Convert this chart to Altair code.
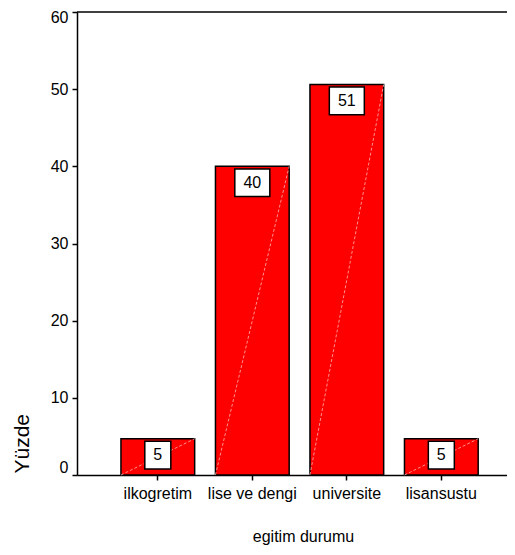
import altair as alt
import pandas as pd

categories = ["ilkogretim", "lise ve dengi", "universite", "lisansustu"]
percents = [4.7, 40.0, 50.6, 4.7]
labels = ["5", "40", "51", "5"]
y_ticks = [0, 10, 20, 30, 40, 50, 60]

df = pd.DataFrame({"cat": categories, "val": percents, "lab": labels})
df["w"] = df["lab"].str.len().astype(str)

FONT = "Liberation Sans"
W, H = 430, 463

xscale = alt.Scale(domain=categories, paddingInner=0.22, paddingOuter=0.385, align=0.604)
yscale = alt.Scale(domain=[0, 60], nice=False)

x_axis = alt.Axis(
    title="egitim durumu", labelAngle=0, labelFont=FONT, labelFontSize=16,
    labelColor="black", labelPadding=5, tickSize=5, tickColor="black",
    tickWidth=1.5, domainColor="black", domainWidth=1.5,
    titleFont=FONT, titleFontSize=16, titleFontWeight="normal", titleColor="black",
    titleX=226, titleY=66, titleAlign="center", titleBaseline="alphabetic",
)
y_axis = alt.Axis(
    title="Yüzde", values=y_ticks, labelFont=FONT, labelFontSize=16,
    labelColor="black", labelPadding=4, tickSize=5, tickColor="black",
    tickWidth=1.5, domainColor="black", domainWidth=1.5, grid=False,
    labelBaseline=alt.condition("datum.value == 0", alt.value("bottom"), alt.value("middle")),
    labelOffset=alt.condition("datum.value == 60", alt.value(5), alt.value(0)),
    titleFont=FONT, titleFontSize=21, titleFontWeight="normal", titleColor="black",
    titleAngle=270, titleX=-49, titleY=461, titleAlign="left",
    titleBaseline="alphabetic",
)

base = alt.Chart(df)

bars = base.mark_bar(fill="#ff0000", stroke="black", strokeWidth=1.5).encode(
    x=alt.X("cat:N", scale=xscale, axis=x_axis, sort=categories),
    y=alt.Y("val:Q", scale=yscale, axis=y_axis),
)

diag = base.transform_calculate(zero="0").mark_rule(
    color="#ffb3b3", strokeWidth=0.8, strokeDash=[3, 2]
).encode(
    x=alt.X("cat:N", bandPosition=0),
    x2=alt.X2("cat", bandPosition=1),
    y=alt.Y("zero:Q"),
    y2=alt.Y2("val"),
)

top = base.transform_filter("datum.cat == 'ilkogretim'").mark_rule(
    color="black", strokeWidth=1.5
).encode(x=alt.value(0), x2=alt.value(W), y=alt.value(0))

narrow = "M-0.743,-0.791L0.743,-0.791L0.743,0.791L-0.743,0.791Z"
wide = "M-1,-0.791L1,-0.791L1,0.791L-1,0.791Z"

boxes = base.mark_point(
    filled=True, fill="white", stroke="black", strokeWidth=1.5, opacity=1,
    size=1225, yOffset=16.4,
).encode(
    x="cat:N", y="val:Q",
    shape=alt.Shape("w:N", scale=alt.Scale(domain=["1", "2"], range=[narrow, wide]), legend=None),
)

texts = base.mark_text(
    font=FONT, fontSize=16, color="black", baseline="middle", align="center", yOffset=16.4
).encode(x="cat:N", y="val:Q", text="lab:N")

chart = alt.layer(bars, diag, top, boxes, texts).properties(
    width=W, height=H,
    autosize=alt.AutoSizeParams(type="none"),
    padding={"left": 69, "top": 4, "right": 0, "bottom": 72},
).configure_view(stroke=None)

chart.save("out.html", embed_options={"renderer": "svg", "actions": False})
